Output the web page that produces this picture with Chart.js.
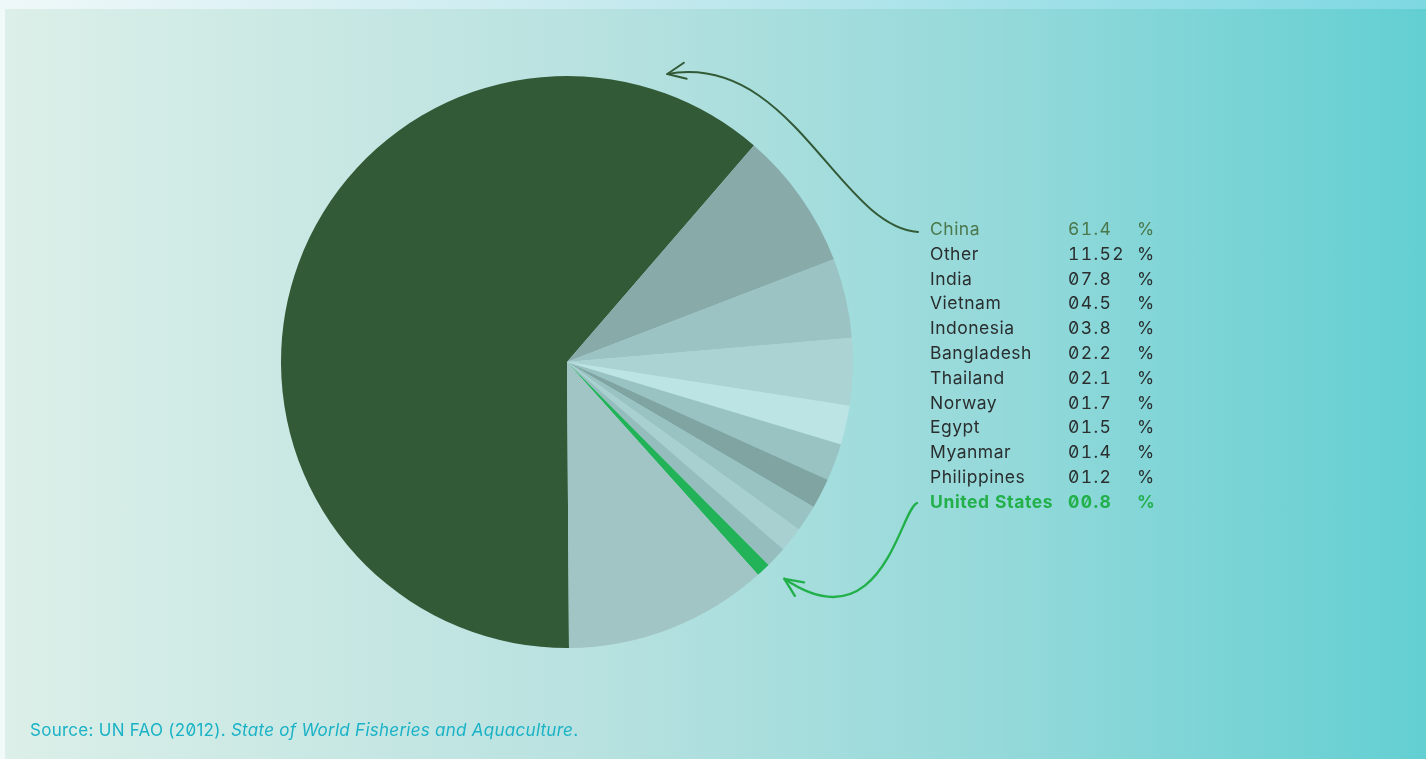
<!DOCTYPE html>
<html>
<head>
<meta charset="utf-8">
<script src="https://cdn.jsdelivr.net/npm/chart.js@4/dist/chart.umd.min.js"></script>
<style>
  html, body { margin: 0; padding: 0; }
  body {
    width: 1426px; height: 759px; overflow: hidden; position: relative;
    background: #f2f9f9;
    font-family: Inter, "Noto Sans", sans-serif;
  }
  .topband {
    position: absolute; left: 0; top: 0; width: 1426px; height: 9px;
    background: linear-gradient(to right, #eff8f9 0%, #c4e9ee 45%, #7ed8e2 100%);
  }
  .panel {
    position: absolute; left: 5px; top: 9px; width: 1421px; height: 750px;
    background: linear-gradient(to right, #dcefe8 0%, #b9e2e0 40%, #95d9da 70%, #63cfd2 100%);
  }
  #chart { position: absolute; left: 0; top: 0; }
  .legend { position: absolute; left: 0; top: 0; font-size: 17.5px; color: #2a2e2f;
    font-feature-settings: "zero" 1, "tnum" 1; }
  .legend .row { position: absolute; height: 24px; line-height: 24px; white-space: nowrap; }
  .legend .name { position: absolute; left: 930px; letter-spacing: 0.5px; }
  .legend .val { position: absolute; left: 1068px; letter-spacing: 1.4px; }
  .legend .pct { position: absolute; left: 1137px; }
  .legend .china { color: #4a784c; }
  .legend .us { color: #22b04b; font-weight: 700; }
  .legend .us .name { letter-spacing: 0.6px; }
  .source { position: absolute; left: 30px; top: 720px; font-size: 17px; color: #1ab2c6;
    letter-spacing: 0.27px; font-feature-settings: "zero" 1; white-space: nowrap; }
</style>
</head>
<body>
<div class="topband"></div>
<div class="panel"></div>
<canvas id="chart" width="1426" height="759"></canvas>
<div class="legend" id="legend"></div>
<div class="source">Source: UN FAO (2012). <i>State of World Fisheries and Aquaculture</i>.</div>
<script>
// Share of world aquaculture production by country (%), in legend order
const countries = ["China", "Other", "India", "Vietnam", "Indonesia", "Bangladesh",
  "Thailand", "Norway", "Egypt", "Myanmar", "Philippines", "United States"];
const shares = [61.4, 11.52, 7.8, 4.5, 3.8, 2.2, 2.1, 1.7, 1.5, 1.4, 1.2, 0.8];

// Order of the slices going clockwise round the pie
const pieOrder = ["China", "India", "Vietnam", "Indonesia", "Bangladesh", "Thailand",
  "Norway", "Egypt", "Myanmar", "Philippines", "United States", "Other"];

const sliceColors = {
  "China": "#335a37",
  "India": "#88abaa",
  "Vietnam": "#9cc3c3",
  "Indonesia": "#abd3d3",
  "Bangladesh": "#bce4e4",
  "Thailand": "#99c2c2",
  "Norway": "#7fa4a2",
  "Egypt": "#99c2c2",
  "Myanmar": "#a9d0d0",
  "Philippines": "#95bdbd",
  "United States": "#22b257",
  "Other": "#a1c4c4"
};

const pieValues = pieOrder.map(n => shares[countries.indexOf(n)]);

// Build the text legend on the right
function fmt(v) {
  const parts = String(v).split(".");
  return parts[0].padStart(2, "0") + (parts[1] ? "." + parts[1] : "");
}
const legendEl = document.getElementById("legend");
const rowTop = 217, rowStep = 24.8;
countries.forEach((c, i) => {
  const row = document.createElement("div");
  row.className = "row" + (c === "China" ? " china" : "") + (c === "United States" ? " us" : "");
  row.style.top = (rowTop + i * rowStep) + "px";
  row.innerHTML = '<span class="name"></span><span class="val"></span><span class="pct">%</span>';
  row.querySelector(".name").textContent = c;
  row.querySelector(".val").textContent = fmt(shares[i]);
  legendEl.appendChild(row);
});

// Curved arrows from the legend entries to their slices
function arrow(ctx, p0, p1, p2, p3, color, width) {
  ctx.save();
  ctx.strokeStyle = color; ctx.lineWidth = width; ctx.lineCap = "round"; ctx.lineJoin = "round";
  ctx.beginPath();
  ctx.moveTo(p0[0], p0[1]);
  ctx.bezierCurveTo(p1[0], p1[1], p2[0], p2[1], p3[0], p3[1]);
  ctx.stroke();
  const ang = Math.atan2(p3[1] - p2[1], p3[0] - p2[0]);
  const len = 20, spread = 0.42;
  ctx.beginPath();
  ctx.moveTo(p3[0] - len * Math.cos(ang - spread), p3[1] - len * Math.sin(ang - spread));
  ctx.lineTo(p3[0], p3[1]);
  ctx.lineTo(p3[0] - len * Math.cos(ang + spread), p3[1] - len * Math.sin(ang + spread));
  ctx.stroke();
  ctx.restore();
}

const calloutPlugin = {
  id: "callouts",
  afterDatasetsDraw(chart) {
    const ctx = chart.ctx;
    const arcs = chart.getDatasetMeta(0).data;
    const cx = arcs[0].x, cy = arcs[0].y, r = arcs[0].outerRadius;
    const polar = (a, d) => [cx + d * Math.sin(a), cy - d * Math.cos(a)];

    // China: tip just outside the top of its slice
    const chinaTip = polar(19.2 * Math.PI / 180, r + 19);
    arrow(ctx, [918, 232], [838, 226], [792, 52], chinaTip, "#335a37", 2);

    // United States: tip pointing at its thin slice
    const us = arcs[pieOrder.indexOf("United States")];
    const usMid = (us.startAngle + us.endAngle) / 2 + Math.PI / 2;
    const usTip = polar(usMid - 0.03, r + 21);
    arrow(ctx, [917, 503], [900, 510], [882, 645], usTip, "#22b04b", 2.4);
  }
};

new Chart(document.getElementById("chart"), {
  type: "pie",
  data: {
    labels: pieOrder,
    datasets: [{
      data: pieValues,
      backgroundColor: pieOrder.map(n => sliceColors[n]),
      borderWidth: 0
    }]
  },
  options: {
    responsive: false,
    animation: false,
    rotation: 179.6,
    layout: { padding: { left: 281, right: 573, top: 76, bottom: 111 } },
    plugins: { legend: { display: false }, tooltip: { enabled: false } }
  },
  plugins: [calloutPlugin]
});
</script>
</body>
</html>
